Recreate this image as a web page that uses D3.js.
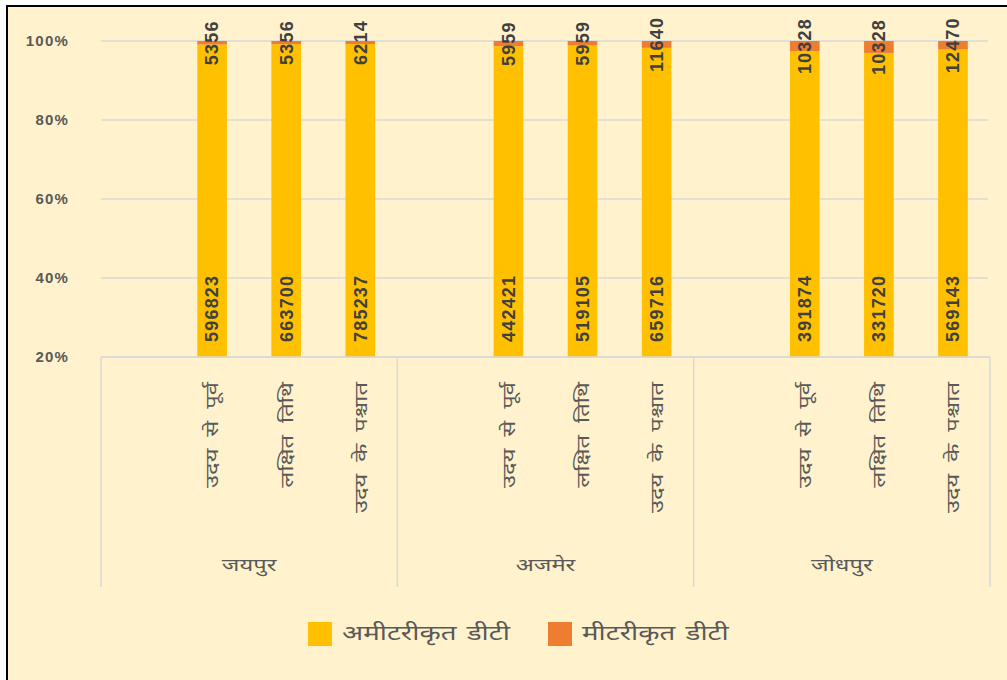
<!DOCTYPE html>
<html>
<head>
<meta charset="utf-8">
<script src="https://cdn.jsdelivr.net/npm/d3@7"></script>
<style>
  body { margin: 0; background: #fff; }
  svg text { font-family: "Liberation Sans", Arial, "Noto Sans Devanagari", "Noto Sans", sans-serif; }
</style>
</head>
<body>
<div id="chart"></div>
<script>
// Data
const districts = ['जयपुर', 'अजमेर', 'जोधपुर'];
const periods = ['उदय से पूर्व', 'लक्षित तिथि', 'उदय के पश्चात'];
const seriesNames = ['अमीटरीकृत डीटी', 'मीटरीकृत डीटी'];
const unmetered = [596823, 663700, 785237, 442421, 519105, 659716, 391874, 331720, 569143];
const metered = [5356, 5356, 6214, 5959, 5959, 11640, 10328, 10328, 12470];
const yTicks = [0.2, 0.4, 0.6, 0.8, 1.0];

const colors = ['#FFC000', '#ED7D31'];
const width = 1007, height = 680;
const plot = { left: 101, right: 990, top: 41, bottom: 357 };
const catBottom = 587;
// the Hindi face in the original is wider than the local one
const hindiStretch = 1.32;

const svg = d3.select('#chart').append('svg')
    .attr('width', width)
    .attr('height', height);

// background + frame (frame runs off the right and bottom edge)
svg.append('rect')
    .attr('x', 7).attr('y', 6)
    .attr('width', width + 10).attr('height', height + 10)
    .attr('fill', '#FFF2CC')
    .attr('stroke', '#000')
    .attr('stroke-width', 2);

// rows: one per district/period pair
const rows = [];
districts.forEach((d, gi) => {
    periods.forEach((p, pi) => {
        const k = gi * periods.length + pi;
        rows.push({ district: d, period: p, values: [unmetered[k], metered[k]] });
    });
});
rows.forEach(r => {
    const total = r.values[0] + r.values[1];
    r.shares = r.values.map(v => v / total);
});

// scales
const x0 = d3.scaleBand().domain(districts).range([plot.left, plot.right]);
// each district block has an empty leading slot, as in the original sheet
const x1 = d3.scaleBand().domain(['', ...periods]).range([0, x0.bandwidth()]).padding(0.6).paddingOuter(0.3);
const y = d3.scaleLinear().domain([0.2, 1]).range([plot.bottom, plot.top]);

// gridlines
svg.append('g')
    .selectAll('line')
    .data(yTicks)
    .join('line')
    .attr('x1', plot.left).attr('x2', plot.right - 2)
    .attr('y1', d => y(d)).attr('y2', d => y(d))
    .attr('stroke', '#D9D9D9')
    .attr('stroke-width', 1.5);

// y labels
svg.append('g')
    .selectAll('text')
    .data(yTicks)
    .join('text')
    .attr('x', 69)
    .attr('y', d => y(d))
    .attr('dy', '0.35em')
    .attr('text-anchor', 'end')
    .attr('font-size', 15)
    .attr('font-weight', 'bold')
    .attr('letter-spacing', 1.2)
    .attr('fill', '#595959')
    .text(d3.format('.0%'));

// stacked bars
svg.append('clipPath').attr('id', 'plotClip')
    .append('rect')
    .attr('x', plot.left).attr('y', 0)
    .attr('width', plot.right - plot.left).attr('height', plot.bottom);

const barX = r => x0(r.district) + x1(r.period);
const bars = svg.append('g').attr('clip-path', 'url(#plotClip)');
rows.forEach(r => {
    let acc = 0;
    r.shares.forEach((s, i) => {
        bars.append('rect')
            .attr('x', barX(r))
            .attr('width', x1.bandwidth())
            .attr('y', y(acc + s))
            .attr('height', y(acc) - y(acc + s))
            .attr('fill', colors[i]);
        acc += s;
    });
});

// data labels
const labels = svg.append('g')
    .attr('font-size', 18)
    .attr('font-weight', 'bold')
    .attr('letter-spacing', 1.2)
    .attr('fill', '#404040');
rows.forEach(r => {
    const cx = barX(r) + x1.bandwidth() / 2;
    // bottom series: anchored just above the axis floor
    const yb = plot.bottom - 15;
    labels.append('text')
        .attr('transform', `translate(${cx},${yb}) rotate(-90)`)
        .attr('dy', '0.35em')
        .attr('text-anchor', 'start')
        .text(r.values[0]);
    // top series: centred on its segment
    const yt = y(r.shares[0] + r.shares[1] / 2);
    labels.append('text')
        .attr('transform', `translate(${cx},${yt}) rotate(-90)`)
        .attr('dy', '0.35em')
        .attr('text-anchor', 'middle')
        .text(r.values[1]);
});

// category axis boxes
const axisG = svg.append('g');
axisG.append('line')
    .attr('x1', plot.left).attr('x2', plot.right)
    .attr('y1', plot.bottom).attr('y2', plot.bottom)
    .attr('stroke', '#D9D9D9').attr('stroke-width', 1.5);
const seps = districts.map(d => x0(d)).concat([plot.right]);
axisG.selectAll('line.sep')
    .data(seps)
    .join('line')
    .attr('class', 'sep')
    .attr('x1', d => d).attr('x2', d => d)
    .attr('y1', plot.bottom).attr('y2', catBottom)
    .attr('stroke', '#D9D9D9').attr('stroke-width', 1.5);

// period labels, rotated
rows.forEach(r => {
    const cx = barX(r) + x1.bandwidth() / 2;
    axisG.append('text')
        .attr('transform', `translate(${cx},${plot.bottom + 25}) rotate(-90) scale(${hindiStretch},1)`)
        .attr('dy', '0.35em')
        .attr('text-anchor', 'end')
        .attr('font-size', 18)
        .attr('word-spacing', 4)
        .attr('fill', '#595959')
        .text(r.period);
});

// district labels
axisG.selectAll('text.dist')
    .data(districts)
    .join('text')
    .attr('class', 'dist')
    .attr('transform', d => `translate(${x0(d) + x0.bandwidth() / 2},571) scale(${hindiStretch},1)`)
    .attr('text-anchor', 'middle')
    .attr('font-size', 18)
    .attr('fill', '#595959')
    .text(d => d);

// legend
const legendItems = [{ x: 308, tx: 342 }, { x: 548, tx: 582 }];
const legend = svg.append('g');
seriesNames.forEach((name, i) => {
    legend.append('rect')
        .attr('x', legendItems[i].x).attr('y', 622)
        .attr('width', 24).attr('height', 24)
        .attr('fill', colors[i]);
    legend.append('text')
        .attr('transform', `translate(${legendItems[i].tx},640) scale(${hindiStretch},1)`)
        .attr('font-size', 21)
        .attr('word-spacing', 2)
        .attr('fill', '#595959')
        .text(name);
});
</script>
</body>
</html>
